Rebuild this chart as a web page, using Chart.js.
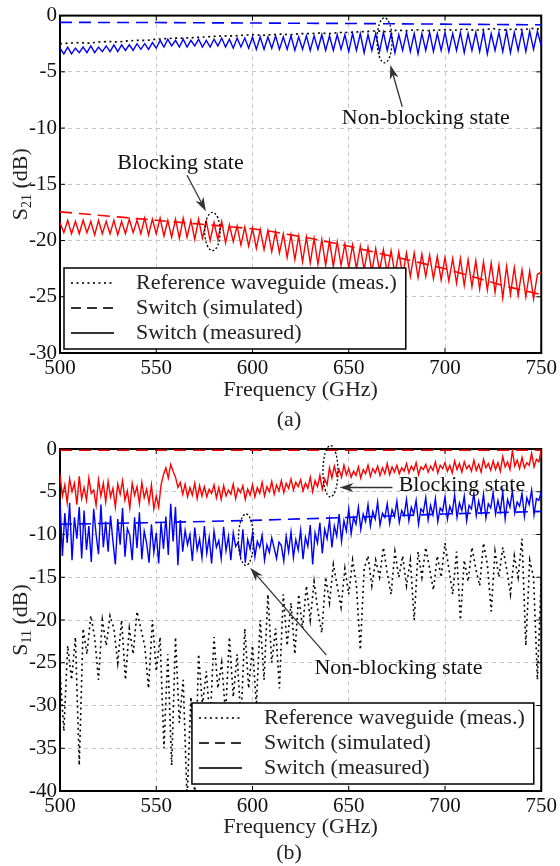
<!DOCTYPE html>
<html>
<head>
<meta charset="utf-8">
<script src="https://cdn.jsdelivr.net/npm/chart.js@4.4.0/dist/chart.umd.min.js"></script>
<style>
  body { margin: 0; background: #fff; }
  .panel { position: absolute; left: 0; width: 560px; height: 433px; }
</style>
</head>
<body>
<div class="panel" style="top:0"><canvas id="s21" width="560" height="433"></canvas></div>
<div class="panel" style="top:433px"><canvas id="s11" width="560" height="433"></canvas></div>
<script>
// frequency grids (GHz)
const grid = (start, step, n) => Array.from({ length: n }, (_, i) => start + i * step);

// ---- (a) S21 ----
const s21MeasFreq = grid(500, 2, 126);
const s21NonBlockingMeas = [
  -2.9, -3.4, -2.8, -3.4, -2.9, -3.3, -2.8, -3.3, -2.7, -3.3, -2.8, -3.2, -2.7, -3.2, -2.6, -3.2, -2.6, -3.1, -2.6, -3.1, -2.5, -3.0, -2.5, -3.0, -2.4, -2.9,
  -2.2, -2.8, -2.1, -2.7, -2.2, -2.8, -2.1, -2.8, -2.2, -2.7, -2.1, -2.8, -2.2, -2.8, -2.1, -2.7, -2.0, -2.8, -2.1, -2.9, -2.0, -2.8, -2.0, -2.9, -1.9,
  -3.0, -1.9, -3.0, -1.9, -2.9, -1.8, -3.0, -1.9, -3.0, -1.8, -3.1, -1.9, -3.0, -1.8, -3.1, -1.8, -3.0, -1.7, -3.1, -1.8, -3.1, -1.7, -3.0, -1.7, -3.2,
  -1.6, -3.1, -1.6, -3.3, -1.7, -3.1, -1.6, -3.2, -1.5, -3.1, -1.6, -3.3, -1.7, -3.1, -1.5, -3.2, -1.6, -3.4, -1.6, -3.1, -1.5, -3.2, -1.6, -3.1, -1.5,
  -3.2, -1.6, -3.1, -1.5, -3.3, -1.6, -3.1, -1.5, -3.2, -1.4, -3.4, -1.6, -3.1, -1.5, -3.2, -1.4, -3.3, -1.5, -3.1, -1.4, -3.2, -1.4, -3.0, -1.4, -2.7
];
const s21BlockingMeas = [
  -18.4, -19.3, -18.2, -19.4, -18.3, -19.4, -18.2, -19.3, -18.3, -19.5, -18.2, -19.4, -18.3, -19.4, -18.2, -19.5, -18.3, -19.4, -18.1, -19.3, -18.2, -19.4, -18.0, -19.5, -18.1, -19.4,
  -18.0, -19.6, -18.2, -19.7, -18.1, -19.8, -18.0, -19.7, -18.2, -19.9, -18.1, -19.8, -18.3, -20.0, -18.4, -19.9, -18.3, -20.2, -18.6, -20.1, -18.7, -20.4, -18.8, -20.5, -18.9,
  -20.7, -19.0, -20.8, -19.1, -21.0, -19.2, -21.1, -19.4, -21.5, -19.5, -21.7, -19.6, -21.9, -19.7, -22.0, -19.8, -22.1, -19.9, -22.2, -20.0, -22.3, -20.1, -22.2, -20.3, -22.4,
  -20.4, -22.5, -20.5, -22.6, -20.6, -22.8, -20.7, -22.7, -20.8, -22.9, -20.9, -23.0, -21.0, -23.1, -21.1, -23.2, -21.1, -23.3, -21.2, -23.2, -21.3, -23.4, -21.4, -23.5, -21.5,
  -23.6, -21.6, -23.8, -21.6, -24.0, -21.7, -24.1, -21.8, -24.3, -21.9, -24.4, -22.0, -24.6, -22.2, -25.1, -22.3, -24.8, -22.4, -24.9, -22.6, -25.0, -22.7, -25.2, -23.0, -22.8
];
const s21RefFreq = grid(500, 5, 51);
const s21Reference = [
  -2.5, -2.45, -2.4, -2.45, -2.35, -2.3, -2.35, -2.25, -2.2, -2.2, -2.1,
  -2.05, -2.0, -2.0, -1.95, -1.9, -1.85, -1.8, -1.8, -1.75, -1.7,
  -1.75, -1.7, -1.65, -1.7, -1.6, -1.6, -1.55, -1.6, -1.5, -1.5,
  -1.45, -1.4, -1.35, -1.45, -1.3, -1.35, -1.25, -1.35, -1.3, -1.25,
  -1.3, -1.2, -1.3, -1.25, -1.15, -1.3, -1.2, -1.25, -1.15, -1.2
];
const s21SimNbFreq = grid(500, 50, 6);
const s21NonBlockingSim = [-0.6, -0.62, -0.66, -0.7, -0.76, -0.82];
const s21SimBlFreq = grid(500, 10, 26);
const s21BlockingSim = [
  -17.45, -17.6, -17.75, -17.9, -18.05, -18.2, -18.35, -18.5, -18.65, -18.8, -18.95, -19.2, -19.5,
  -19.8, -20.15, -20.5, -20.9, -21.3, -21.7, -22.1, -22.5, -23.0, -23.5, -24.0, -24.4, -24.8
];

// ---- (b) S11 ----
const s11MeasFreq = grid(500, 1.25, 201);
const s11BlockingMeas = [
  -3.0, -5.5, -4.2, -6.3, -3.5, -5.0, -4.0, -6.5, -3.2, -5.8, -4.5, -6.0, -3.4, -5.2, -4.8, -6.6, -3.6, -5.5, -4.0, -6.2,
  -3.8, -5.6, -4.6, -6.8, -4.1, -5.3, -3.7, -6.0, -4.9, -6.9, -4.0, -5.4, -4.4, -6.4, -3.9, -5.7, -4.7, -6.3, -4.2, -7.0,
  -5.5, -6.8, -4.2, -3.0, -2.2, -3.4, -1.8, -2.6, -3.3, -4.5, -3.9, -5.3, -4.1, -5.6, -4.5, -5.4, -4.0, -5.8, -4.3, -5.5,
  -4.4, -5.6, -4.7, -5.2, -4.2, -5.7, -4.5, -5.9, -4.3, -5.5, -4.8, -5.3, -4.1, -5.8, -4.6, -5.1, -4.3, -5.9, -4.7, -5.4,
  -4.2, -5.6, -4.5, -5.2, -3.9, -5.5, -4.4, -5.0, -3.8, -5.3, -4.2, -4.9, -3.7, -5.1, -4.0, -4.6, -3.5, -4.8, -3.9, -4.4,
  -3.6, -4.9, -4.0, -4.6, -3.3, -5.0, -3.7, -4.4, -3.1, -4.7, -3.5, -4.2, -2.2, -3.4, -2.0, -3.1, -2.4, -3.3, -1.9, -3.0,
  -2.3, -3.3, -2.6, -3.1, -2.1, -3.4, -2.4, -2.9, -1.9, -3.2, -2.3, -2.8, -2.0, -3.1, -2.2, -2.9, -1.7, -3.0, -2.1, -2.7,
  -1.9, -2.9, -2.2, -2.6, -1.7, -2.8, -2.0, -2.5, -1.6, -3.0, -2.1, -2.4, -1.8, -2.7, -2.0, -2.5, -1.5, -2.8, -1.9, -2.3,
  -1.6, -2.6, -1.9, -2.8, -1.4, -2.4, -1.7, -2.7, -1.5, -2.3, -1.9, -2.6, -1.3, -2.5, -1.8, -2.7, -1.2, -2.2, -1.7, -2.5,
  -1.4, -2.4, -1.6, -2.6, -0.9, -2.1, -1.5, -2.4, -0.2, -2.0, -1.3, -2.3, -1.0, -2.2, -1.6, -1.9, -0.5, -2.1, -1.2, -1.5,
  -0.1
];
const s11NonBlockingMeas = [
  -6.0, -12.5, -7.5, -11.0, -6.3, -13.0, -8.0, -10.5, -6.8, -12.8, -7.2, -11.8, -9.0, -13.2, -7.0, -10.0, -12.3, -6.5, -11.5, -8.5,
  -12.0, -7.8, -10.8, -13.5, -8.2, -11.2, -6.9, -12.6, -9.3, -10.1, -13.0, -8.0, -11.6, -7.4, -12.9, -9.6, -11.0, -13.3, -8.8, -12.1,
  -9.8, -13.4, -8.6, -11.7, -7.9, -12.4, -6.4, -10.8, -6.8, -13.6, -8.3, -12.0, -9.5, -11.2, -10.0, -13.1, -9.2, -11.8, -10.5, -12.7,
  -9.0, -12.2, -10.3, -13.4, -9.6, -11.5, -10.7, -12.8, -9.1, -11.9, -10.2, -13.0, -9.8, -11.4, -10.9, -12.5, -9.4, -13.3, -10.6, -11.7,
  -9.9, -12.6, -10.8, -11.5, -10.1, -13.0, -11.2, -12.1, -10.4, -11.6, -12.8, -10.9, -11.3, -13.1, -10.2, -12.0, -9.7, -12.7, -10.6, -11.8,
  -9.5, -12.9, -10.3, -11.4, -8.9, -13.5, -9.8, -11.0, -8.6, -12.2, -9.4, -10.5, -8.3, -11.5, -9.0, -10.2, -7.6, -10.8, -8.4, -9.6,
  -7.0, -9.9, -8.0, -8.8, -6.8, -9.4, -7.6, -8.5, -6.5, -9.0, -7.3, -8.2, -6.2, -8.9, -7.5, -8.0, -6.4, -8.7, -7.1, -7.9,
  -6.1, -8.6, -7.2, -7.8, -5.9, -8.4, -6.8, -7.6, -6.0, -8.8, -7.0, -7.4, -5.7, -8.3, -6.6, -7.7, -5.8, -8.5, -6.9, -7.3,
  -5.6, -8.2, -6.7, -7.5, -5.4, -8.0, -6.3, -7.2, -5.5, -8.4, -6.6, -7.0, -5.2, -7.8, -6.1, -7.4, -5.3, -8.1, -6.4, -6.9,
  -5.1, -7.6, -6.0, -7.3, -5.0, -8.2, -5.9, -6.8, -4.9, -7.5, -6.2, -6.7, -5.2, -7.9, -5.7, -6.5, -4.8, -7.7, -5.8, -6.0,
  -5.0
];
const s11RefFreq = grid(500, 2, 126);
const s11Reference = [
  -26, -33, -23, -27, -22, -37, -21, -24, -19.5, -22, -27, -20, -23, -19.5, -21, -25, -20, -27, -21, -24, -19, -21, -23, -28, -20, -26,
  -22, -35, -24, -37, -22, -32, -27, -41, -29, -41, -24, -30, -26, -32, -22, -28, -25, -31, -22, -29, -24, -32, -21, -28, -23,
  -30, -20, -27, -17, -25, -21, -28, -17, -23, -18, -24, -17, -21, -16, -20, -15.5, -19, -21.5, -15, -18, -13.5, -16, -18.5, -14, -17,
  -13, -16, -23.5, -14, -12.5, -16, -13, -15, -11.5, -14.5, -17, -12, -15, -12.5, -16, -13, -20, -12, -15, -11.5, -14, -16.5, -12.5, -15, -11,
  -14, -17, -12, -20, -13, -15.5, -11.5, -14, -16, -11, -13.5, -19, -12, -15, -11.5, -14, -17, -12.5, -15, -10.5, -23, -13, -15, -27, -15
];
const s11SimFreq = grid(500, 50, 6);
const s11BlockingSim = [-0.15, -0.15, -0.15, -0.15, -0.15, -0.15];
const s11NonBlockingSim = [-8.8, -8.6, -8.35, -8.0, -7.6, -7.3];

const legendLabels = ['Reference waveguide (meas.)', 'Switch (simulated)', 'Switch (measured)'];

const SERIF = '"Liberation Serif", "Times New Roman", serif';
const BLUE = '#0000ff';
const RED = '#ff0000';

const pts = (xs, ys) => ys.map((v, i) => ({ x: xs[i], y: v }));

function lineSet(xs, ys, color, kind) {
  const dash = kind === 'dash' ? [12, 7] : kind === 'dot' ? [2, 3.5] : [];
  return {
    data: pts(xs, ys),
    borderColor: color,
    borderWidth: kind === 'solid' ? 1.4 : 1.6,
    borderDash: dash,
    pointRadius: 0,
    tension: 0,
    fill: false,
  };
}

function arrow(ctx, x0, y0, x1, y1) {
  const a = Math.atan2(y1 - y0, x1 - x0);
  const c = Math.cos(a), s = Math.sin(a);
  ctx.beginPath();
  ctx.moveTo(x0, y0);
  ctx.lineTo(x1 - 9 * c, y1 - 9 * s);
  ctx.stroke();
  ctx.beginPath();
  ctx.moveTo(x1, y1);
  ctx.lineTo(x1 - 14 * c + 4.5 * s, y1 - 14 * s - 4.5 * c);
  ctx.lineTo(x1 - 10 * c, y1 - 10 * s);
  ctx.lineTo(x1 - 14 * c - 4.5 * s, y1 - 14 * s + 4.5 * c);
  ctx.closePath();
  ctx.fill();
}

const figure = {
  id: 'figure',
  beforeDatasetsDraw(chart) {
    const { ctx, chartArea: a, scales: { x, y } } = chart;
    ctx.save();
    ctx.strokeStyle = '#000';
    ctx.lineWidth = 1;
    const tick = (x0, y0, x1, y1) => { ctx.beginPath(); ctx.moveTo(x0, y0); ctx.lineTo(x1, y1); ctx.stroke(); };
    x.ticks.forEach(t => {
      const px = x.getPixelForValue(t.value);
      tick(px, a.top, px, a.top + 5);
      tick(px, a.bottom, px, a.bottom - 5);
    });
    y.ticks.forEach(t => {
      const py = y.getPixelForValue(t.value);
      tick(a.left, py, a.left + 5, py);
      tick(a.right, py, a.right - 5, py);
    });
    ctx.lineWidth = 2;
    ctx.strokeRect(a.left, a.top, a.width, a.height);
    ctx.restore();
  },
  afterDatasetsDraw(chart, args, o) {
    const { ctx, chartArea: a, scales: { x, y } } = chart;
    ctx.save();

    // dotted ellipses marking the curves
    ctx.strokeStyle = '#000';
    ctx.lineWidth = 1.3;
    ctx.setLineDash([2, 2]);
    o.ellipses.forEach(e => {
      const cx = x.getPixelForValue(e.f), cy = y.getPixelForValue(e.v);
      const rx = Math.abs(x.getPixelForValue(e.f + e.df) - cx);
      const ry = Math.abs(y.getPixelForValue(e.v + e.dv) - cy);
      ctx.beginPath();
      ctx.ellipse(cx, cy, rx, ry, 0, 0, Math.PI * 2);
      ctx.stroke();
    });

    // arrows
    ctx.setLineDash([]);
    ctx.strokeStyle = '#333';
    ctx.fillStyle = '#333';
    ctx.lineWidth = 1.3;
    o.arrows.forEach(r => {
      arrow(ctx, x.getPixelForValue(r.from[0]), y.getPixelForValue(r.from[1]),
        x.getPixelForValue(r.to[0]), y.getPixelForValue(r.to[1]));
    });

    // state labels
    ctx.font = `22px ${SERIF}`;
    ctx.fillStyle = '#111';
    ctx.textAlign = 'center';
    ctx.textBaseline = 'middle';
    o.notes.forEach(n => ctx.fillText(n.text, x.getPixelForValue(n.f), y.getPixelForValue(n.v)));

    // legend box
    const w = 7 + 43 + 22 + Math.max(...legendLabels.map(l => ctx.measureText(l).width)) + 9;
    const h = 81;
    const left = o.legendSide === 'left' ? a.left + 4 : a.right - 7.5 - w;
    const top = a.bottom - o.legendGap - h;
    ctx.fillStyle = '#fff';
    ctx.fillRect(left, top, w, h);
    ctx.strokeStyle = '#000';
    ctx.lineWidth = 1.5;
    ctx.strokeRect(left, top, w, h);
    const samples = [[2, 3.5], [10, 6], []];
    legendLabels.forEach((label, i) => {
      const cy = top + 15 + i * 25;
      ctx.strokeStyle = '#333';
      ctx.lineWidth = 1.8;
      ctx.setLineDash(samples[i]);
      ctx.beginPath();
      ctx.moveTo(left + 7, cy);
      ctx.lineTo(left + 50, cy);
      ctx.stroke();
      ctx.setLineDash([]);
      ctx.fillStyle = '#222';
      ctx.textAlign = 'left';
      ctx.fillText(label, left + 72, cy);
    });

    // axis titles and panel label
    ctx.fillStyle = '#222';
    ctx.textAlign = 'center';
    ctx.fillText('Frequency (GHz)', (a.left + a.right) / 2, a.bottom + o.xTitleGap);
    ctx.fillText(o.panel, 289, 420);

    ctx.translate(27, (a.top + a.bottom) / 2);
    ctx.rotate(-Math.PI / 2);
    ctx.textBaseline = 'alphabetic';
    ctx.textAlign = 'left';
    const big = `22px ${SERIF}`, small = `14px ${SERIF}`;
    ctx.font = big;
    const wS = ctx.measureText('S').width, wRest = ctx.measureText(' (dB)').width;
    ctx.font = small;
    const wSub = ctx.measureText(o.sub).width;
    let cx = -(wS + wSub + wRest) / 2;
    ctx.font = big;
    ctx.fillText('S', cx, 0);
    cx += wS;
    ctx.font = small;
    ctx.fillText(o.sub, cx, 4);
    cx += wSub;
    ctx.font = big;
    ctx.fillText(' (dB)', cx, 0);

    ctx.restore();
  }
};

function makeChart(id, datasets, yMin, padTop, xHeight, fig) {
  const ctx = document.getElementById(id).getContext('2d');
  return new Chart(ctx, {
    type: 'line',
    data: { datasets },
    options: {
      responsive: false,
      animation: false,
      devicePixelRatio: 1,
      events: [],
      layout: { padding: { top: padTop, right: 15, bottom: 0, left: 0 } },
      plugins: { legend: { display: false }, tooltip: { enabled: false }, figure: fig },
      scales: {
        x: {
          type: 'linear',
          min: 500,
          max: 750,
          afterFit: (s) => { s.height = xHeight; },
          ticks: { stepSize: 50, padding: 3, color: '#111', font: { family: SERIF, size: 21 }, maxRotation: 0 },
          grid: { color: '#c4c4c4', lineWidth: 1, drawTicks: false },
          border: { display: false, dash: [4, 4] },
        },
        y: {
          min: yMin,
          max: 0,
          afterFit: (s) => { s.width = 60; },
          ticks: { stepSize: 5, padding: 3, color: '#111', font: { family: SERIF, size: 21 } },
          grid: { color: '#c4c4c4', lineWidth: 1, drawTicks: false },
          border: { display: false, dash: [4, 4] },
        },
      },
    },
    plugins: [figure],
  });
}

makeChart('s21', [
  lineSet(s21SimNbFreq, s21NonBlockingSim, BLUE, 'dash'),
  lineSet(s21RefFreq, s21Reference, '#000', 'dot'),
  lineSet(s21MeasFreq, s21NonBlockingMeas, BLUE, 'solid'),
  lineSet(s21SimBlFreq, s21BlockingSim, RED, 'dash'),
  lineSet(s21MeasFreq, s21BlockingMeas, RED, 'solid'),
], -30, 11, 80, {
  sub: '21',
  panel: '(a)',
  xTitleGap: 37,
  legendSide: 'left',
  legendGap: 4,
  ellipses: [
    { f: 668.6, v: -2.2, df: 3.9, dv: 2.0 },
    { f: 579.2, v: -19.2, df: 4.0, dv: 1.7 },
  ],
  arrows: [
    { from: [677.8, -8.1], to: [671.6, -4.4] },
    { from: [566, -14.2], to: [575.8, -17.4] },
  ],
  notes: [
    { text: 'Non-blocking state', f: 690, v: -9.1 },
    { text: 'Blocking state', f: 562.6, v: -13.1 },
  ],
});

makeChart('s11', [
  lineSet(s11RefFreq, s11Reference, '#000', 'dot'),
  lineSet(s11SimFreq, s11NonBlockingSim, BLUE, 'dash'),
  lineSet(s11MeasFreq, s11NonBlockingMeas, BLUE, 'solid'),
  lineSet(s11SimFreq, s11BlockingSim, RED, 'dash'),
  lineSet(s11MeasFreq, s11BlockingMeas, RED, 'solid'),
], -40, 16, 75, {
  sub: '11',
  panel: '(b)',
  xTitleGap: 36,
  legendSide: 'right',
  legendGap: 7,
  ellipses: [
    { f: 640.5, v: -2.6, df: 3.9, dv: 3.0 },
    { f: 596.6, v: -10.6, df: 3.9, dv: 3.0 },
  ],
  arrows: [
    { from: [672.7, -4.5], to: [645.2, -4.5] },
    { from: [638.4, -24.1], to: [598.8, -13.9] },
  ],
  notes: [
    { text: 'Blocking state', f: 708.8, v: -4.2 },
    { text: 'Non-blocking state', f: 675.8, v: -25.6 },
  ],
});
</script>
</body>
</html>
